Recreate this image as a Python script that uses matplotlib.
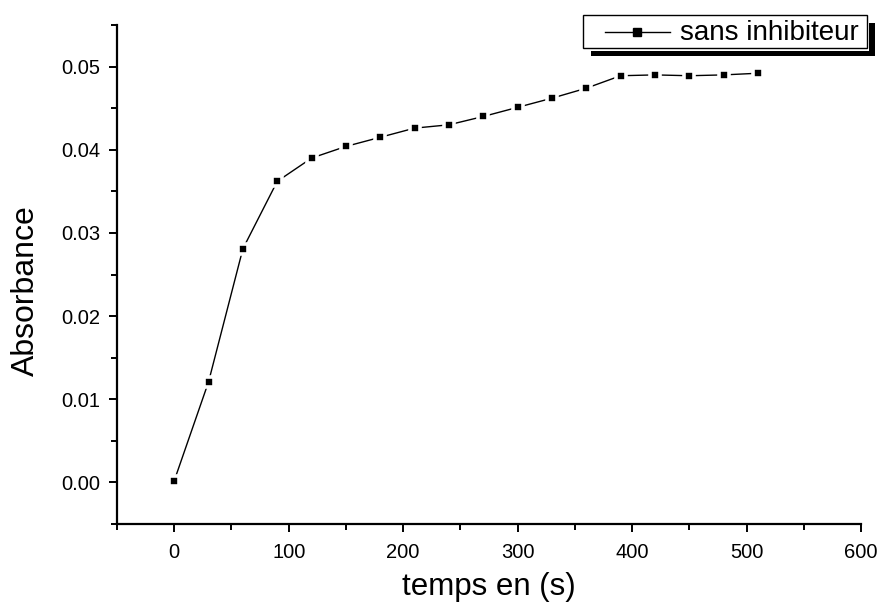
import matplotlib
matplotlib.use("Agg")
import matplotlib.pyplot as plt
from matplotlib.patches import Rectangle
from matplotlib.lines import Line2D
from matplotlib.ticker import MultipleLocator

plt.rcParams['font.family'] = ['Liberation Sans', 'DejaVu Sans']

# temps (s) et absorbance
temps = [0, 30, 60, 90, 120, 150, 180, 210, 240, 270, 300, 330, 360,
         390, 420, 450, 480, 510]
absorbance = [0.0002, 0.0121, 0.0281, 0.0362, 0.0390, 0.0404, 0.0415, 0.0426,
              0.0430, 0.0440, 0.0451, 0.0462, 0.0474, 0.0489, 0.0490, 0.0489,
              0.0490, 0.0492]
label = "sans inhibiteur"

W, H = 880, 605
fig = plt.figure(figsize=(W / 100, H / 100), dpi=100)
ax = fig.add_axes([117 / W, 1 - 524 / H, (861 - 117) / W, (524 - 25) / H])

# marqueurs avec bord blanc -> petit espace entre ligne et point (style Origin)
ax.plot(temps, absorbance, color='black', lw=1.0, marker='s',
        markersize=7.9, markerfacecolor='black', markeredgecolor='white',
        markeredgewidth=2.6, clip_on=False)

ax.set_xlim(-50, 600)
ax.set_ylim(-0.005, 0.055)
ax.xaxis.set_major_locator(MultipleLocator(100))
ax.xaxis.set_minor_locator(MultipleLocator(50))
ax.yaxis.set_major_locator(MultipleLocator(0.01))
ax.yaxis.set_minor_locator(MultipleLocator(0.005))
ax.yaxis.set_major_formatter(plt.FormatStrFormatter('%.2f'))

for s in ['top', 'right']:
    ax.spines[s].set_visible(False)
for s in ['left', 'bottom']:
    ax.spines[s].set_linewidth(1.6)

ax.tick_params(which='major', direction='out', length=6, width=1.4,
               labelsize=14.5, pad=6)
ax.tick_params(which='minor', direction='out', length=4, width=1.4)
ax.tick_params(axis='x', which='major', pad=8)

ax.set_xlabel("temps en (s)", fontsize=22.5, labelpad=7)
ax.set_ylabel("Absorbance", fontsize=23)
ax.yaxis.set_label_coords(-0.102, 0.468)


def fx(px):
    return px / W


def fy(py):
    return 1 - py / H


# legende style Origin avec ombre noire
fig.add_artist(Rectangle((fx(869), fy(56)), fx(875) - fx(869), fy(23) - fy(56),
                         transform=fig.transFigure, color='black', lw=0))
fig.add_artist(Rectangle((fx(591), fy(56)), fx(875) - fx(591), fy(51) - fy(56),
                         transform=fig.transFigure, color='black', lw=0))
fig.add_artist(Rectangle((fx(583), fy(48)), fx(867) - fx(583), fy(15) - fy(48),
                         transform=fig.transFigure, facecolor='white',
                         edgecolor='black', lw=1.0))
fig.add_artist(Line2D([fx(605), fx(670)], [fy(32), fy(32)],
                      transform=fig.transFigure, color='black', lw=1.0))
fig.add_artist(Line2D([fx(637)], [fy(32)], transform=fig.transFigure,
                      marker='s', markersize=5.5, color='black'))
fig.text(fx(680), fy(32.5), label, fontsize=20, va='center', ha='left')

fig.savefig("out.png", dpi=100)
